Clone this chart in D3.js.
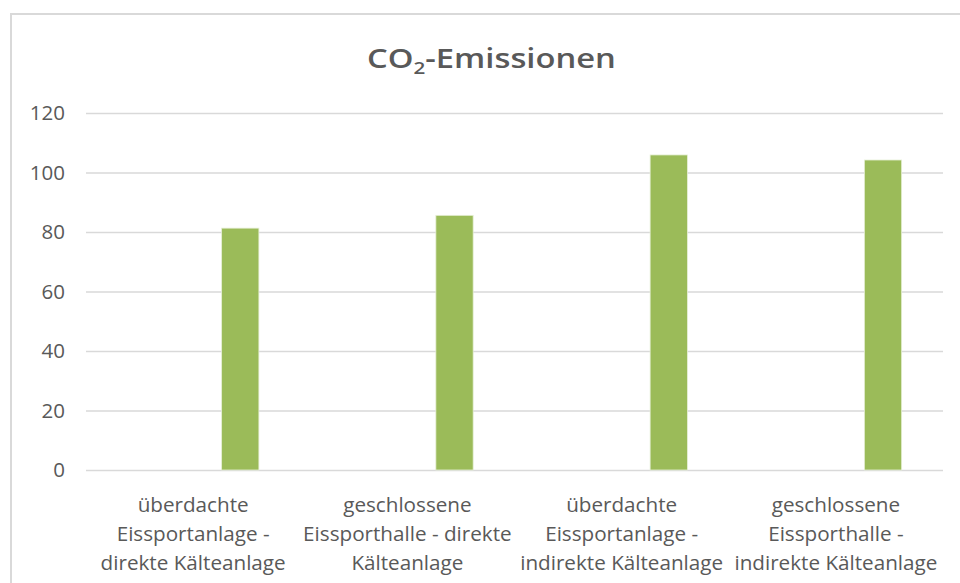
<!DOCTYPE html>
<html>
<head>
<meta charset="utf-8">
<script src="https://cdn.jsdelivr.net/npm/d3@7"></script>
<style>
  body { margin: 0; background: #fff; }
  svg text { font-family: "Open Sans", "Noto Sans", sans-serif; fill: #595959; }
</style>
</head>
<body>
<script>
// categories, one label per line
var categories = [
  ["überdachte", "Eissportanlage -", "direkte Kälteanlage"],
  ["geschlossene", "Eissporthalle - direkte", "Kälteanlage"],
  ["überdachte", "Eissportanlage -", "indirekte Kälteanlage"],
  ["geschlossene", "Eissporthalle -", "indirekte Kälteanlage"]
];
var emissions = [81.3, 85.6, 105.9, 104.2];
var yTicks = [0, 20, 40, 60, 80, 100, 120];

var width = 960, height = 583;
var plot = { left: 86, right: 943, top: 113, bottom: 470 };

var svg = d3.select("body").append("svg")
  .attr("width", width)
  .attr("height", height);

// chart frame (runs off the right/bottom edge like the screenshot)
svg.append("rect")
  .attr("x", 11).attr("y", 14)
  .attr("width", width + 20).attr("height", height + 20)
  .attr("fill", "#fff")
  .attr("stroke", "#d9d9d9")
  .attr("stroke-width", 2);

var x = d3.scaleBand()
  .domain(d3.range(categories.length))
  .range([plot.left, plot.right])
  .padding(0);

var y = d3.scaleLinear()
  .domain([0, 120])
  .range([plot.bottom, plot.top]);

// gridlines + y labels
var yAxis = d3.axisLeft(y)
  .tickValues(yTicks)
  .tickSize(-(plot.right - plot.left))
  .tickPadding(21);

var gy = svg.append("g")
  .attr("transform", "translate(" + plot.left + ",0)")
  .call(yAxis);
gy.select(".domain").remove();
gy.selectAll(".tick line").attr("stroke", "#d9d9d9").attr("stroke-width", 1.3);
gy.selectAll(".tick text")
  .attr("font-size", 20.5)
  .attr("fill", "#595959")
  .style("font-family", '"Open Sans", sans-serif');

// the bars sit in the right part of each category slot
var barOffset = 0.633, barWidth = 0.174;
svg.append("g").selectAll("rect")
  .data(emissions)
  .enter()
  .append("rect")
  .attr("x", function (d, i) { return x(i) + x.bandwidth() * barOffset; })
  .attr("width", x.bandwidth() * barWidth)
  .attr("y", function (d) { return y(d); })
  .attr("height", function (d) { return y(0) - y(d); })
  .attr("fill", "#9bbb59")
  .attr("stroke", "#e6efd6")
  .attr("stroke-width", 0.8);

// category labels, three lines each (reference type is a bit wider, so stretch a little)
var labelStretch = 1.06;
var labels = svg.append("g").selectAll("text")
  .data(categories)
  .enter()
  .append("text")
  .attr("text-anchor", "middle")
  .attr("font-size", 19.5)
  .attr("transform", function (d, i) {
    return "translate(" + (x(i) + x.bandwidth() / 2) + ",512) scale(" + labelStretch + ",1)";
  });
labels.selectAll("tspan")
  .data(function (d) { return d; })
  .enter()
  .append("tspan")
  .attr("x", 0)
  .attr("y", function (d, j) { return j * 29; })
  .text(function (d) { return d; });

// title with subscript 2, fitted to the reference width
var titleLeft = 367, titleRight = 616;
var titleG = svg.append("g");
var title = titleG.append("text")
  .attr("x", 0)
  .attr("y", 0)
  .attr("font-size", 27)
  .attr("font-weight", 600);
title.append("tspan").text("CO");
title.append("tspan").attr("font-size", 17).attr("dy", 6).text("2");
title.append("tspan").attr("dy", -6).text("-Emissionen");
var tw = title.node().getBBox().width;
titleG.attr("transform", "translate(" + titleLeft + ",68) scale(" + ((titleRight - titleLeft) / tw) + ",1)");
</script>
</body>
</html>
